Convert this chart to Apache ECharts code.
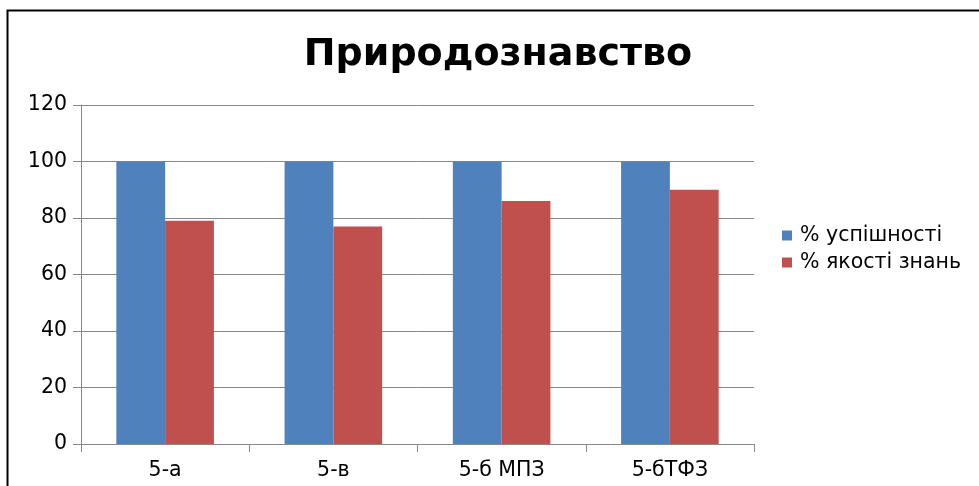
<!DOCTYPE html>
<html><head><meta charset="utf-8">
<script src="https://cdn.jsdelivr.net/npm/echarts@6/dist/echarts.min.js"></script>
<style>html,body{margin:0;padding:0;background:#fff}#c{width:979px;height:486px}</style>
</head><body><div id="c"></div>
<script>
const categories = ['5-а', '5-в', '5-б МПЗ', '5-бТФЗ'];
const successPct = [100, 100, 100, 100];
const qualityPct = [79, 77, 86, 90];
const yTicks = { min: 0, max: 120, interval: 20 };
const seriesNames = ['% успішності', '% якості знань'];

const chart = echarts.init(document.getElementById('c'), null, { renderer: 'canvas' });
const font = 'DejaVu Sans';
const fs = 20.5;
chart.setOption({
  backgroundColor: '#fff',
  animation: false,
  graphic: [{
    type: 'rect', left: 5, top: 8, shape: { width: 1000, height: 500 },
    style: { fill: 'none', stroke: '#000', lineWidth: 2 }, silent: true
  }],
  title: {
    text: 'Природознавство', left: 493, top: 31, textAlign: 'center',
    textStyle: { fontFamily: font, fontWeight: 'bold', fontSize: 38, color: '#000' }
  },
  legend: {
    orient: 'vertical', left: 782, top: 225, padding: 0,
    itemWidth: 10, itemHeight: 10, itemGap: 6,
    icon: 'rect',
    textStyle: { fontFamily: font, fontSize: fs, color: '#000', padding: [0, 0, 0, 3] },
    data: seriesNames
  },
  grid: { left: 81, right: 225, top: 105, bottom: 42, containLabel: false },
  xAxis: {
    type: 'category', data: categories,
    axisLine: { lineStyle: { color: '#888', width: 1 } },
    axisTick: { show: true, length: 8, alignWithLabel: false, lineStyle: { color: '#888' } },
    axisLabel: { fontFamily: font, fontSize: fs, color: '#000', margin: 16 }
  },
  yAxis: {
    type: 'value', min: yTicks.min, max: yTicks.max, interval: yTicks.interval,
    axisLine: { show: true, lineStyle: { color: '#888', width: 1 } },
    axisTick: { show: true, length: 8, lineStyle: { color: '#888' } },
    splitLine: { lineStyle: { color: '#888', width: 1 } },
    axisLabel: { fontFamily: font, fontSize: fs, color: '#000', margin: 14 }
  },
  series: [
    { name: seriesNames[0], type: 'bar', data: successPct, barGap: '0%', barCategoryGap: '42%',
      itemStyle: { color: '#4F81BD' } },
    { name: seriesNames[1], type: 'bar', data: qualityPct,
      itemStyle: { color: '#C0504D' } }
  ]
});
</script></body></html>
